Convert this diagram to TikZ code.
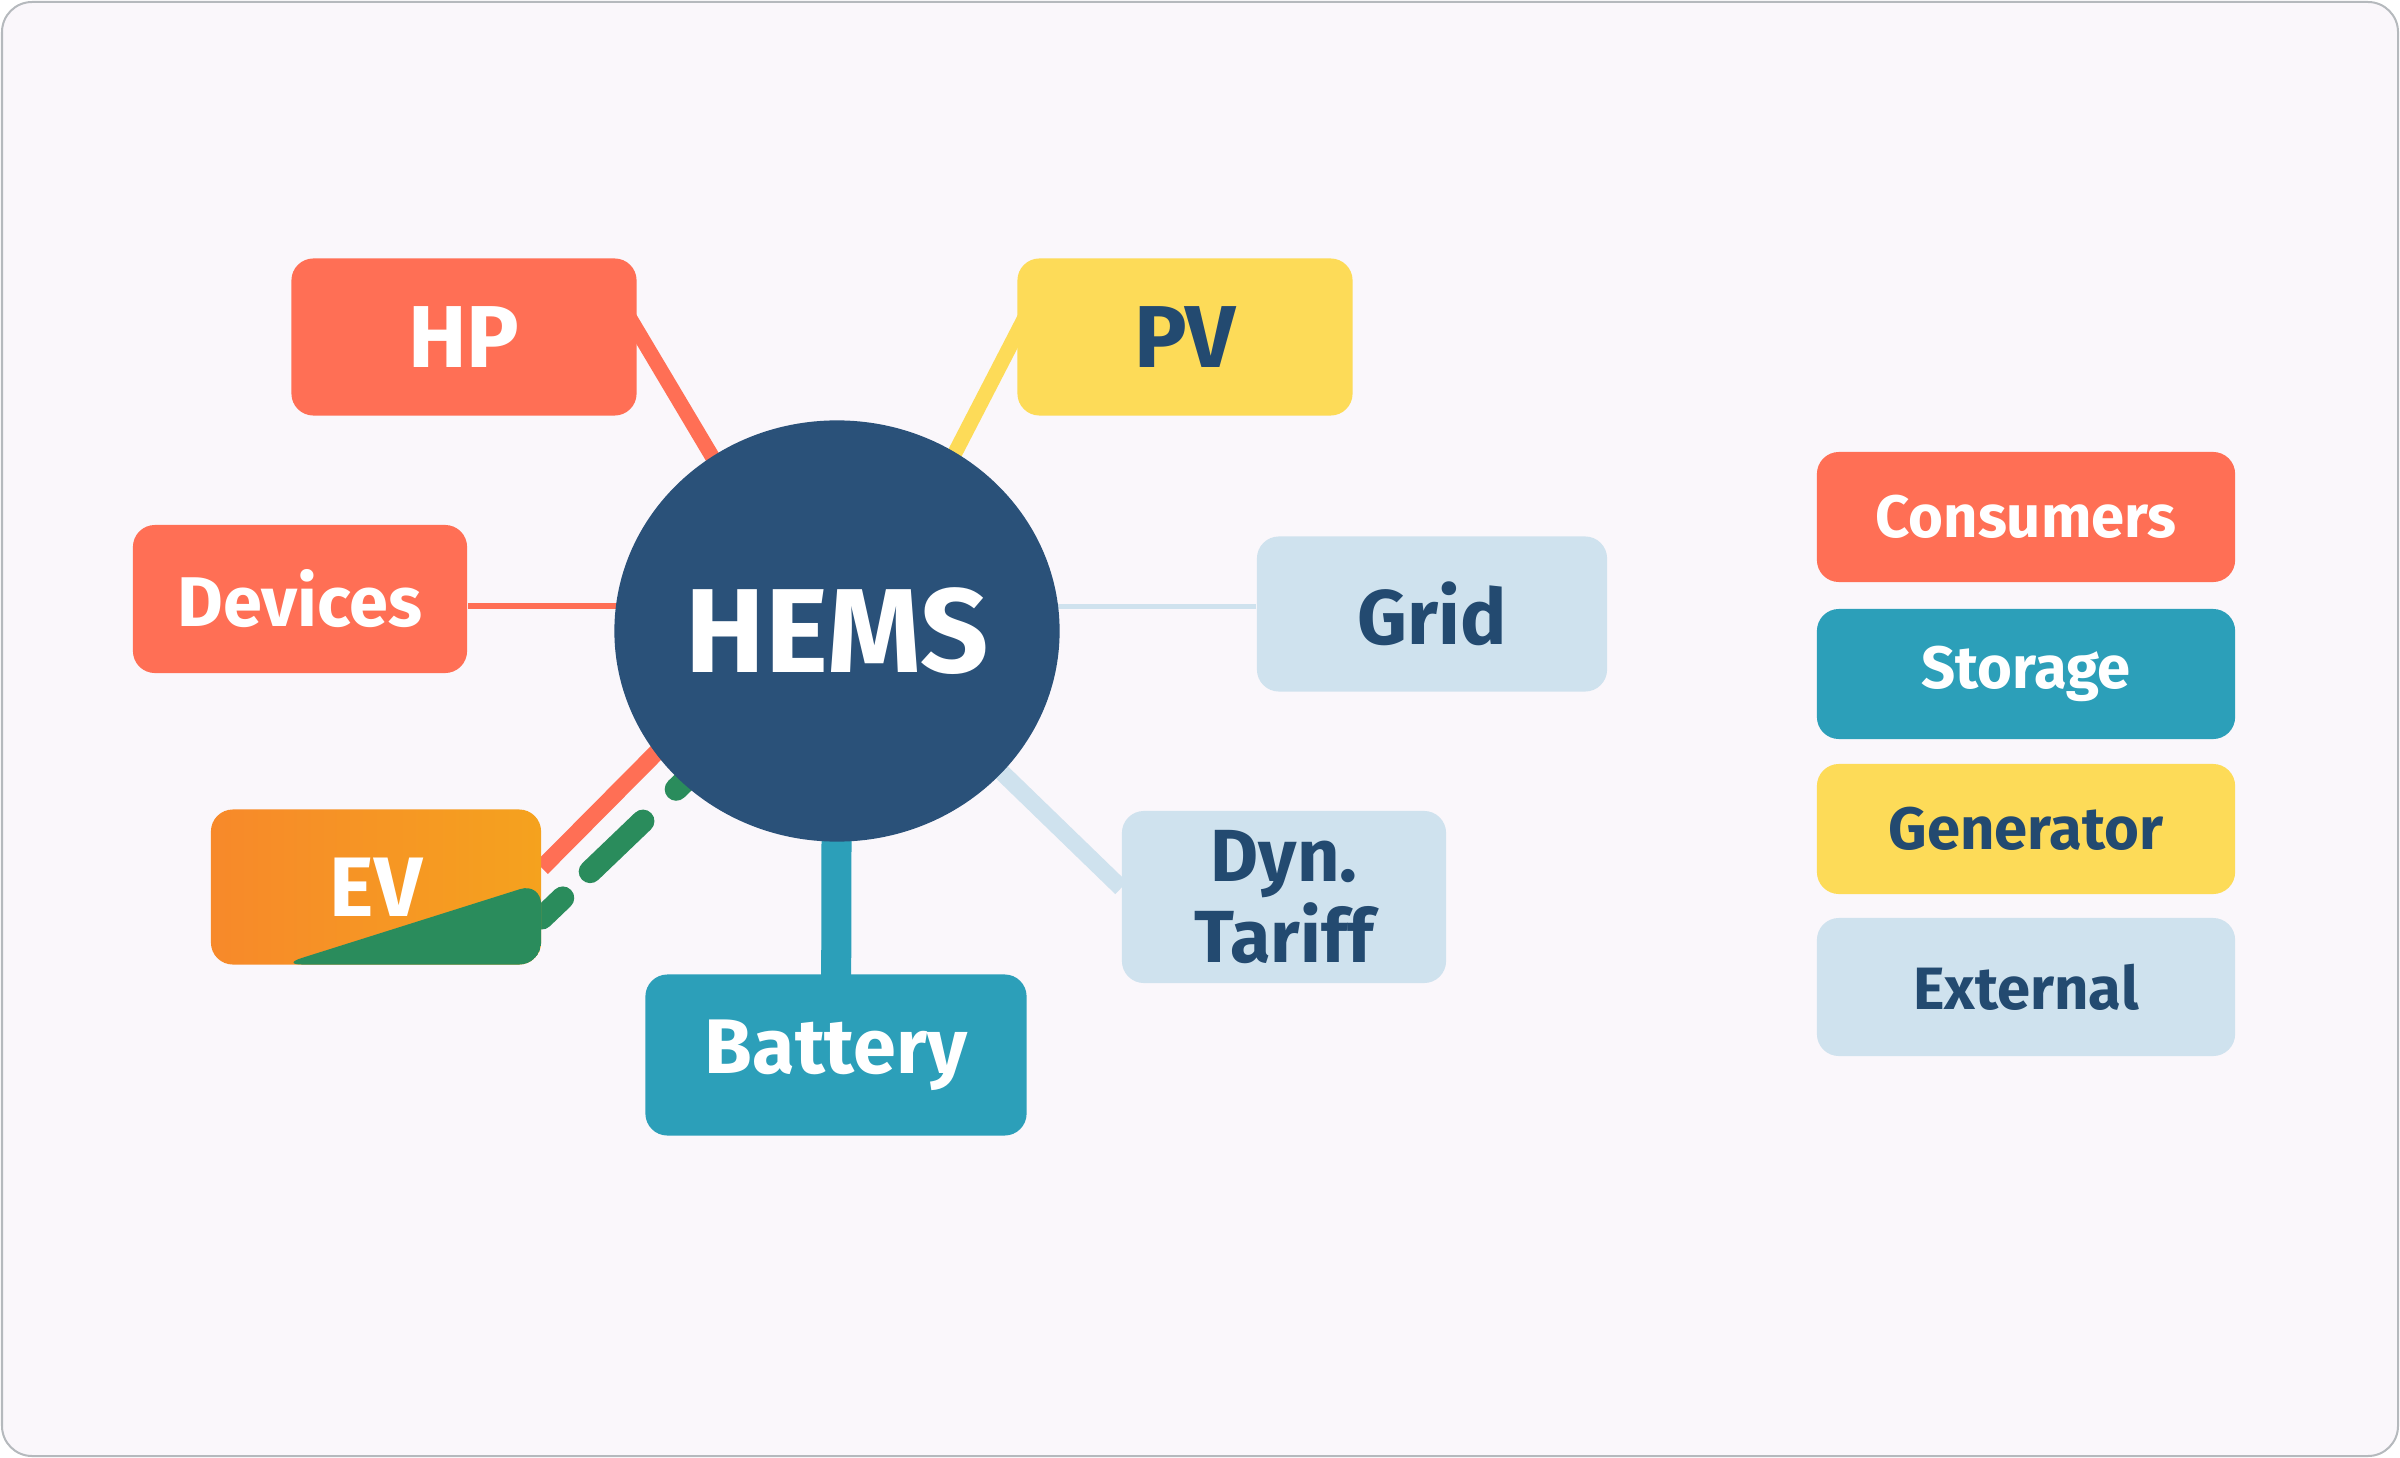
\documentclass[tikz,border=0pt]{standalone}
\usepackage{fontspec}
\setmainfont{Fira Sans}
\usetikzlibrary{calc,shapes.geometric}

\definecolor{coral}{HTML}{FF6F55}
\definecolor{sun}{HTML}{FDDB58}
\definecolor{teal}{HTML}{2C9FB9}
\definecolor{pale}{HTML}{CFE2EE}
\definecolor{navy}{HTML}{2A5179}
\definecolor{ink}{HTML}{234A70}
\definecolor{leaf}{HTML}{2A8C5C}
\definecolor{evleft}{HTML}{F7892A}
\definecolor{evright}{HTML}{F5A21E}
\definecolor{paper}{HTML}{FAF7FB}
\definecolor{frame}{HTML}{B5B9BD}

\pgfdeclarelayer{paperlayer}
\pgfdeclarelayer{links}
\pgfsetlayers{paperlayer,links,main}

\tikzset{
  tag/.style={rounded corners=0.22cm, inner sep=0pt, align=center,
    font=\bfseries\fontsize{20}{21.5}\selectfont},
  consumer/.style={tag, fill=coral, text=white},
  store/.style={tag, fill=teal, text=white},
  gen/.style={tag, fill=sun, text=ink},
  extern/.style={tag, fill=pale, text=ink},
  legend/.style={minimum width=4.18cm, minimum height=1.3cm,
    font=\bfseries\fontsize{17}{19}\selectfont},
}

\begin{document}
\begin{tikzpicture}[x=0.01cm,y=-0.01cm]
	\useasboundingbox (0,0) rectangle (2400,1458);
	\begin{pgfonlayer}{paperlayer}
		\draw[frame, fill=paper, line width=0.02cm, rounded corners=0.3cm] (2,2) rectangle (2398,1456);
	\end{pgfonlayer}

	\node[ellipse, inner sep=0pt, fill=navy, text=white, minimum width=4.45cm, minimum height=4.21cm,
		font=\bfseries\fontsize{34}{36}\selectfont] (hems) at (837,631) {HEMS};
	\node[consumer, minimum width=3.45cm, minimum height=1.57cm,
		font=\bfseries\fontsize{25}{27}\selectfont] (hp) at (464,337) {HP};
	\node[gen, minimum width=3.35cm, minimum height=1.57cm,
		font=\bfseries\fontsize{25}{27}\selectfont] (pv) at (1185,337) {PV};
	\node[consumer, minimum width=3.34cm, minimum height=1.48cm] (devices) at (300,599) {Devices};
	\node[extern, minimum width=3.5cm, minimum height=1.55cm,
		font=\bfseries\fontsize{22}{24}\selectfont] (grid) at (1432,614) {Grid};
	\node[tag, text=white, left color=evleft, right color=evright, minimum width=3.3cm, minimum height=1.55cm,
		font=\bfseries\fontsize{24}{26}\selectfont,
		path picture={\fill[leaf] ($(path picture bounding box.south west)+(0.7cm,0cm)$)
			-- ($(path picture bounding box.south east)+(0cm,0.82cm)$)
			-- (path picture bounding box.south east) -- cycle;}] (ev) at (376,887) {EV};
	\node[store, minimum width=3.81cm, minimum height=1.61cm,
		font=\bfseries\fontsize{22}{24}\selectfont] (battery) at (836,1055) {Battery};
	\node[extern, minimum width=3.24cm, minimum height=1.72cm,
		font=\bfseries\fontsize{21}{23}\selectfont] (tariff) at (1284,897) {Dyn.\\Tariff};

	\node[consumer, legend] (consumers) at (2026,517) {Consumers};
	\node[store, legend] (storage) at (2026,674) {Storage};
	\node[gen, legend] (generator) at (2026,829) {Generator};
	\node[extern, legend, minimum height=1.38cm] (external) at (2026,987) {External};

	\begin{pgfonlayer}{links}
		\draw[coral, line width=0.15cm] ($(hp.east)+(-10,-23)$) -- ($(hems.center)+(-21,0)$);
		\draw[sun, line width=0.15cm] ($(pv.west)+(10,-23)$) -- ($(hems.center)+(26,0)$);
		\draw[coral, line width=0.06cm] ($(devices.east)+(0,7)$) -- ($(hems.center)+(0,-25)$);
		\draw[pale, line width=0.05cm] ($(grid.west)+(0,-8)$) -- ($(hems.center)+(0,-25)$);
		\draw[coral, line width=0.17cm] ($(ev.east)+(0,-19)$) -- ($(hems.center)+(-60,0)$);
		\draw[leaf, line width=0.23cm, line cap=round,
			dash pattern=on 0.29cm off 0.38cm on 0.73cm off 0.46cm on 1cm]
			($(ev.east)+(0,31)$) -- ($(hems.center)+(-100,100)$);
		\draw[teal, line width=0.3cm] (battery.center) -- (hems.center);
		\draw[pale, line width=0.17cm] ($(tariff.west)+(0,-9)$) -- ($(hems.center)+(19,0)$);
	\end{pgfonlayer}
\end{tikzpicture}
\end{document}
